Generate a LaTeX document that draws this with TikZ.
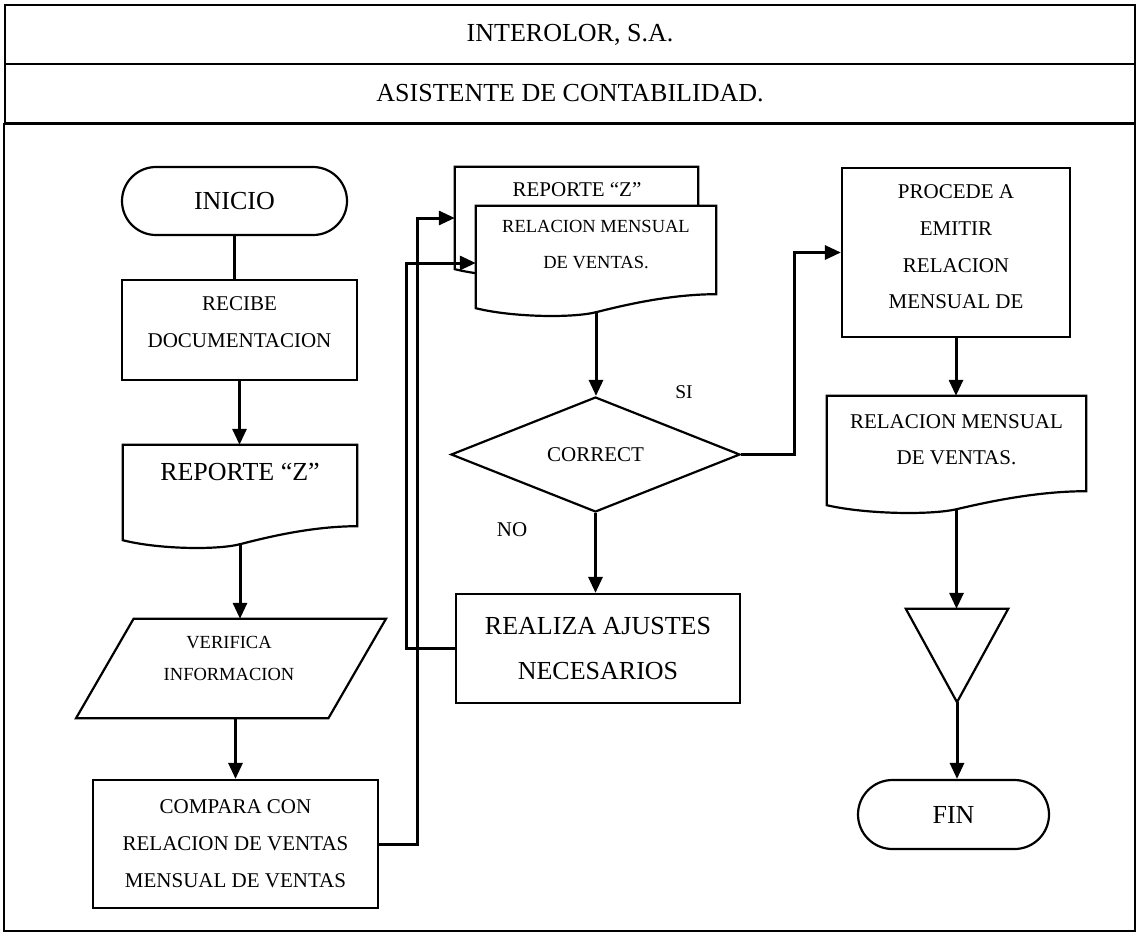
\documentclass[tikz,border=0pt]{standalone}
\usepackage{fontspec}
\setmainfont{Liberation Serif}
\usetikzlibrary{shapes.geometric,shapes.misc,arrows.meta,calc}
\newcommand\fbig{\fontsize{26}{45}\selectfont}
\newcommand\fmed{\fontsize{21}{37}\selectfont}
\newcommand\fsml{\fontsize{18.5}{32}\selectfont}
\newcommand\drawdoc[1]{\draw[shapeline] ($(#1.south east)+(0,-14)$) -- (#1.north east) -- (#1.north west) -- (#1.south west)
 .. controls ($(#1.south west)!0.15!(#1.south east)+(0,9)$) and ($(#1.south west)!0.4!(#1.south east)+(0,10)$) .. ($(#1.south)+(0,4)$)
 .. controls ($(#1.south west)!0.6!(#1.south east)+(0,-2)$) and ($(#1.south west)!0.8!(#1.south east)+(0,-14)$) .. ($(#1.south east)+(0,-14)$) -- cycle;}
\begin{document}
\begin{tikzpicture}[x=1pt,y=-1pt,
  shapeline/.style={draw=black,line width=2.2pt,fill=white},
  boxnode/.style={rectangle,shapeline,inner sep=0pt,align=center},
  ghost/.style={rectangle,draw=none,inner sep=0pt},
  txt/.style={align=center,inner sep=0pt},
  conn/.style={line width=3pt,-{Triangle[length=16pt,width=14pt]}},
  plain/.style={line width=2.6pt},
  hdr/.style={rectangle,draw=black,line width=2.6pt,inner sep=0pt,minimum width=1130pt,minimum height=59pt,font=\fbig}
]
\useasboundingbox (0,0) rectangle (1137,935);
\fill[white] (0,0) rectangle (1137,935);
% frame
\node[hdr] (h1) at (570,34.5) {INTEROLOR, S.A.};
\node[hdr] (h2) at (570,93.5) {ASISTENTE DE CONTABILIDAD.};
\draw[line width=2.2pt] (h2.south west) rectangle (1135,931);

% left column
\node[rounded rectangle,shapeline,inner sep=0pt,minimum width=225pt,minimum height=68pt,font=\fbig] (ini) at (234.5,201) {INICIO};
\node[boxnode,minimum width=235pt,minimum height=100pt] (rec) at (239.5,330) {};
\node[txt,font=\fmed] (rect) at (239.5,322.5) {RECIBE\\DOCUMENTACION};

\node[ghost,minimum width=234pt,minimum height=95pt] (rz1) at (240,492.5) {};
\drawdoc{rz1}
\node[txt,font=\fbig] (rz1t) at (240,472) {REPORTE “Z”};

\node[ghost,minimum width=252pt,minimum height=99pt] (ver) at (231,668.5) {};
\draw[shapeline] ($(ver.north west)+(28.75,0)$) -- ($(ver.north east)+(28.75,0)$) -- ($(ver.south east)+(-28.75,0)$) -- ($(ver.south west)+(-28.75,0)$) -- cycle;
\node[txt,font=\fsml] (vert) at (229,658.5) {VERIFICA\\INFORMACION};

\node[boxnode,minimum width=285pt,minimum height=128pt,font=\fmed] (cmp) at (235.5,844) {COMPARA CON\\RELACION DE VENTAS\\MENSUAL DE VENTAS};

% middle column
\node[ghost,minimum width=243pt,minimum height=102pt] (bk) at (576.5,218) {};
\drawdoc{bk}
\node[ghost,minimum width=240pt,minimum height=102pt] (fr) at (596,257) {};
\drawdoc{fr}
\node[txt,font=\fmed] (bkt) at (577,190) {REPORTE “Z”};
\node[txt,font=\fontsize{18.5}{36}\selectfont] (frt) at (596,245) {RELACION MENSUAL\\DE VENTAS.};

\node[diamond,shapeline,inner sep=0pt,minimum width=289pt,minimum height=115pt,font=\fmed] (dia) at (595.5,454.5) {CORRECT};
\node[txt,font=\fontsize{19.5}{20}\selectfont] (si) at (684,392) {SI};
\node[txt,font=\fmed] (no) at (512,530) {NO};

\node[boxnode,minimum width=284pt,minimum height=109pt,font=\fbig] (rz) at (598,648.5) {REALIZA AJUSTES\\NECESARIOS};

% right column
\node[boxnode,minimum width=228pt,minimum height=169pt] (pro) at (956,252.5) {};
\node[txt,font=\fontsize{21}{36.7}\selectfont] (prot) at (956,247) {PROCEDE A\\EMITIR\\RELACION\\MENSUAL DE};

\node[ghost,minimum width=259pt,minimum height=109pt] (rd) at (956.5,450.5) {};
\drawdoc{rd}
\node[txt,font=\fontsize{21}{36}\selectfont] (rdt) at (956.5,440) {RELACION MENSUAL\\DE VENTAS.};

\node[ghost,minimum width=102pt,minimum height=93pt] (tri) at (957,655.5) {};
\draw[shapeline] (tri.north west) -- (tri.north east) -- (tri.south) -- cycle;

\node[rounded rectangle,shapeline,inner sep=0pt,minimum width=191pt,minimum height=69pt,font=\fbig] (fin) at (953.5,814.5) {FIN};

% connectors
\draw[plain] (ini.south) -- (ini.south |- rec.north);
\draw[conn] (rec.south) -- (rec.south |- rz1.north);
\coordinate (rz1w) at ($(rz1.south)+(0,4)$);
\draw[conn] (rz1w) -- (rz1w |- ver.north);
\draw[conn] (ver.south -| cmp.north) -- (cmp.north);
\draw[conn] (cmp.east) -- ++(38,0) |- (bk.west);
\coordinate (frin) at ($(fr.west)+(0,6)$);
\draw[conn] (rz.west) -- ++(-48,0) |- (frin);
\coordinate (frw) at ($(fr.south)+(0,4)$);
\draw[conn] (frw) -- (frw |- dia.north);
\draw[conn] (dia.south) -- (dia.south |- rz.north);
\draw[conn] (dia.east) -- ++(53,0) |- (pro.west);
\draw[conn] (pro.south) -- (pro.south |- rd.north);
\coordinate (rdw) at ($(rd.south)+(0,4)$);
\draw[conn] (rdw) -- (rdw |- tri.north);
\draw[conn] (tri.south) -- (tri.south |- fin.north);
\end{tikzpicture}
\end{document}
